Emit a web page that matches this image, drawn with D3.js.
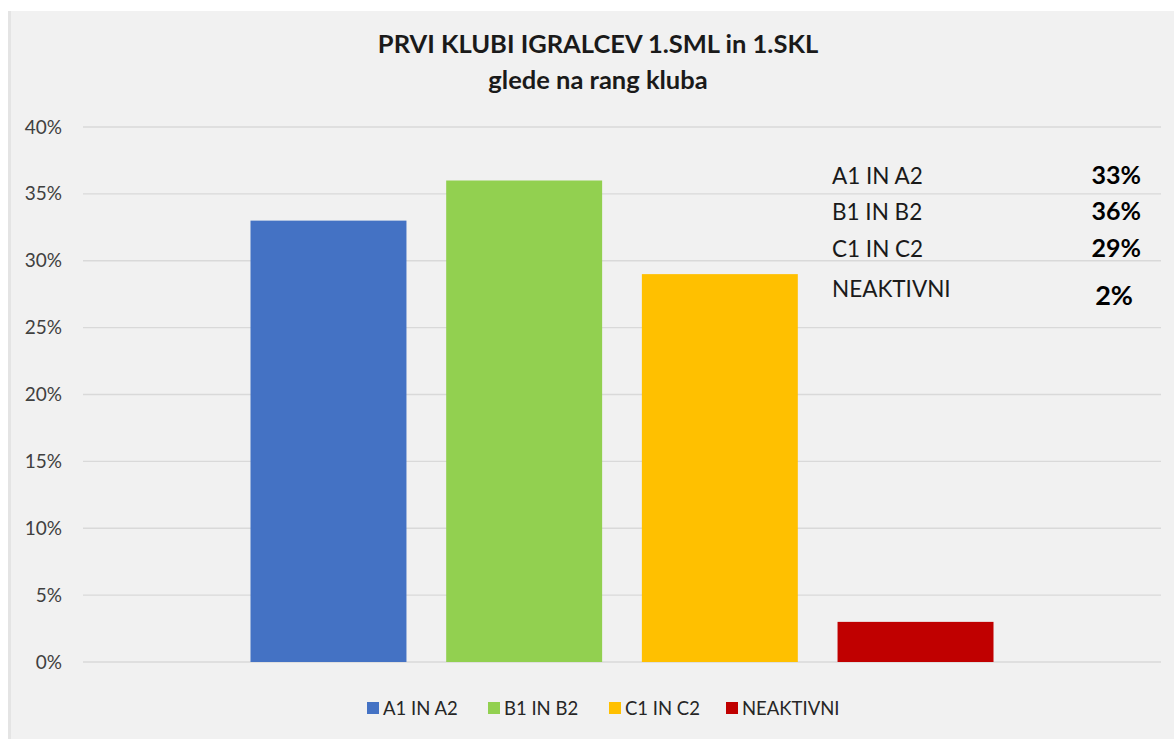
<!DOCTYPE html>
<html>
<head>
<meta charset="utf-8">
<script src="https://cdn.jsdelivr.net/npm/d3@7"></script>
<style>
  html, body { margin: 0; padding: 0; background: #ffffff; }
  svg { display: block; font-family: Lato, "Open Sans", sans-serif; }
</style>
</head>
<body>
<div id="chart"></div>
<script>
// Data
const categories = ["A1 IN A2", "B1 IN B2", "C1 IN C2", "NEAKTIVNI"];
const values = [33, 36, 29, 3];
const colors = ["#4472c4", "#92d050", "#ffc000", "#c00000"];
const tableLabels = ["33%", "36%", "29%", "2%"];
const yTicks = [0, 5, 10, 15, 20, 25, 30, 35, 40];
const titleLines = ["PRVI KLUBI IGRALCEV 1.SML in 1.SKL", "glede na rang kluba"];

// Dimensions
const width = 1174;
const height = 739;

const svg = d3
  .select("#chart")
  .append("svg")
  .attr("width", width)
  .attr("height", height);

// Background panel
svg.append("rect").attr("x", 8).attr("y", 11).attr("width", width - 8).attr("height", height - 11).attr("fill", "#f1f1f1");
svg.append("rect").attr("x", 8).attr("y", 11).attr("width", 3).attr("height", height - 11).attr("fill", "#e4e4e4");

// Scales
const x = d3
  .scaleBand()
  .domain(categories)
  .range([83, 1161])
  .paddingInner(0.203)
  .paddingOuter(0.856);

const y = d3.scaleLinear().domain([0, 40]).range([662, 127]);

// Gridlines
svg
  .append("g")
  .selectAll("line")
  .data(yTicks)
  .enter()
  .append("line")
  .attr("x1", 83)
  .attr("x2", 1161)
  .attr("y1", (d) => y(d))
  .attr("y2", (d) => y(d))
  .attr("stroke", "#d9d9d9")
  .attr("stroke-width", 1.3);

// Y axis labels
const yAxis = d3
  .axisLeft(y)
  .tickValues(yTicks)
  .tickSize(0)
  .tickPadding(21)
  .tickFormat((d) => d + "%");

const yAxisG = svg.append("g").attr("transform", "translate(83,0)").call(yAxis);
yAxisG.select(".domain").remove();
yAxisG
  .selectAll("text")
  .attr("font-family", "Lato, 'Open Sans', sans-serif")
  .attr("font-size", 19)
  .attr("fill", "#404040");

// Bars
svg
  .selectAll(".bar")
  .data(values)
  .enter()
  .append("rect")
  .attr("class", "bar")
  .attr("x", (d, i) => x(categories[i]))
  .attr("y", (d) => y(d))
  .attr("width", x.bandwidth())
  .attr("height", (d) => y(0) - y(d))
  .attr("fill", (d, i) => colors[i]);

// Title
svg
  .append("g")
  .selectAll("text")
  .data(titleLines)
  .enter()
  .append("text")
  .attr("x", 598)
  .attr("y", (d, i) => 53 + i * 36)
  .attr("text-anchor", "middle")
  .attr("font-size", 25.5)
  .attr("font-weight", "bold")
  .attr("fill", "#1a1a1a")
  .text((d) => d);

// Text table on the right
const rowY = [184, 220, 257, 297];
const table = svg.append("g");
table
  .selectAll(".tlabel")
  .data(categories)
  .enter()
  .append("text")
  .attr("class", "tlabel")
  .attr("x", 832)
  .attr("y", (d, i) => rowY[i])
  .attr("font-size", 22.5)
  .attr("fill", "#1a1a1a")
  .text((d) => d);

table
  .selectAll(".tvalue")
  .data(tableLabels)
  .enter()
  .append("text")
  .attr("class", "tvalue")
  .attr("x", (d, i) => (i === 3 ? 1133 : 1141))
  .attr("y", (d, i) => (i === 3 ? 305 : rowY[i]))
  .attr("text-anchor", "end")
  .attr("font-size", (d, i) => (i === 3 ? 27 : 25))
  .attr("font-weight", "bold")
  .attr("fill", "#000")
  .text((d) => d);

// Legend
const legendX = [367, 488, 609, 726];
const legend = svg
  .append("g")
  .selectAll("g")
  .data(categories)
  .enter()
  .append("g")
  .attr("transform", (d, i) => `translate(${legendX[i]},708)`);

legend
  .append("rect")
  .attr("x", 0)
  .attr("y", -6)
  .attr("width", 12)
  .attr("height", 12)
  .attr("fill", (d, i) => colors[i]);

legend
  .append("text")
  .attr("x", 16)
  .attr("y", 6.5)
  .attr("font-size", 18.5)
  .attr("fill", "#262626")
  .text((d) => d);
</script>
</body>
</html>
